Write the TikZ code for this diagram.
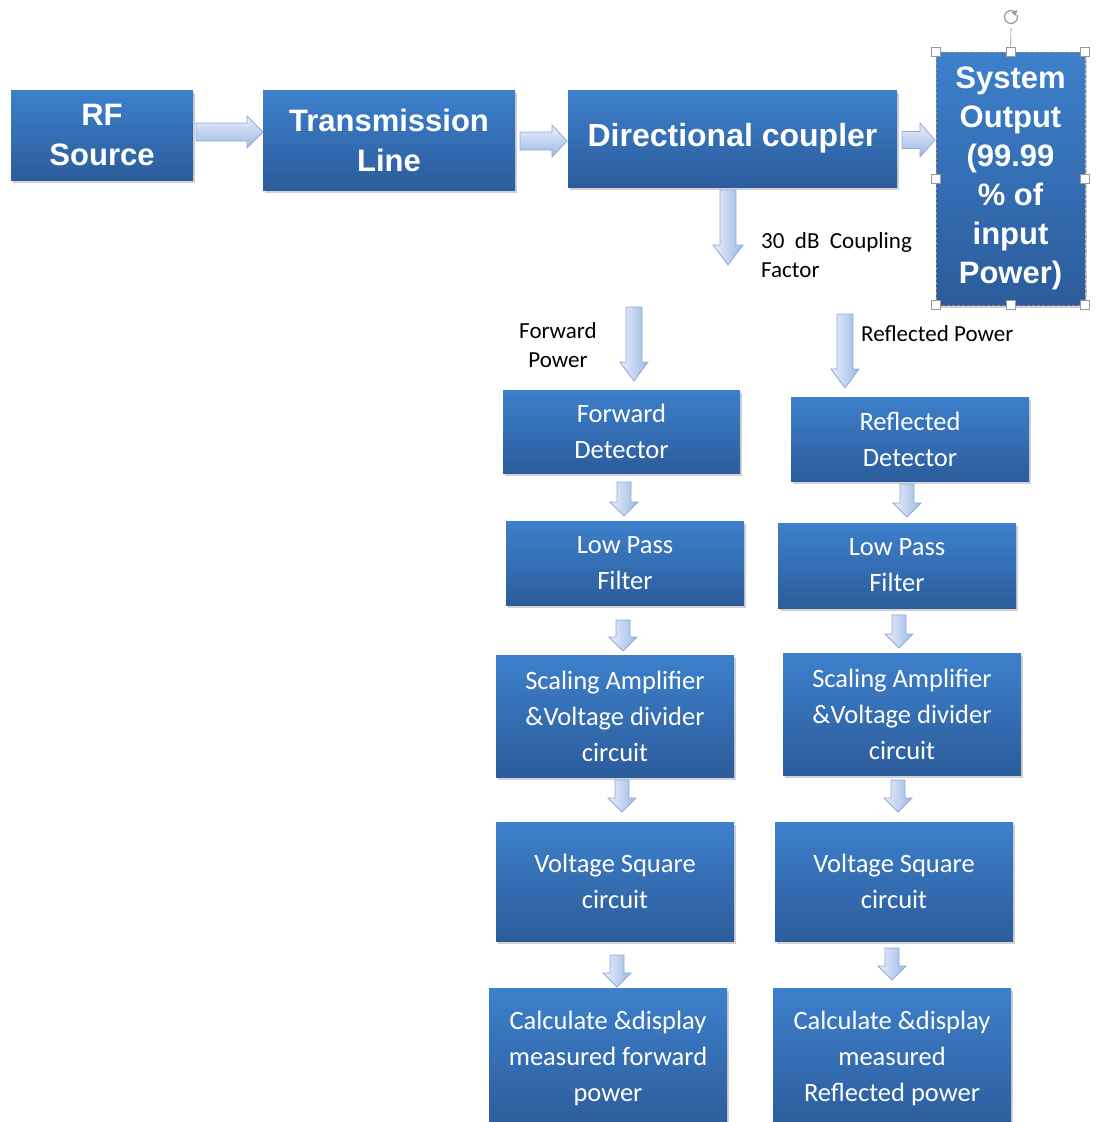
\documentclass[tikz,border=0pt]{standalone}
\usepackage{fontspec}
\setmainfont{Carlito}
\newfontfamily\arialb{Liberation Sans}[BoldFont={* Bold}]
\usetikzlibrary{shadows}
\definecolor{boxtop}{HTML}{3D80CC}
\definecolor{boxbot}{HTML}{2C5C9B}
\definecolor{arrL}{HTML}{E8EFFB}
\definecolor{arrR}{HTML}{9DB8E4}
\definecolor{arrline}{HTML}{8EA9D8}
\newcommand\varr[6]{% x, ytop, ytip, shaft half, head half, head length
  \path[arrowbody] ({#1-#4},{-#2}) -- ({#1+#4},{-#2}) -- ({#1+#4},{-#3+#6}) -- ({#1+#5},{-#3+#6})
    -- (#1,{-#3}) -- ({#1-#5},{-#3+#6}) -- ({#1-#4},{-#3+#6}) -- cycle;}
\newcommand\harr[6]{% y, xleft, xtip, shaft half, head half, head length
  \path[harrowbody] ({#2},{-#1+#4}) -- ({#3-#6},{-#1+#4}) -- ({#3-#6},{-#1+#5}) -- (#3,{-#1})
    -- ({#3-#6},{-#1-#5}) -- ({#3-#6},{-#1-#4}) -- ({#2},{-#1-#4}) -- cycle;}
\begin{document}
\begin{tikzpicture}[x=1pt,y=1pt,
  blk/.style={draw=none, top color=boxtop, bottom color=boxbot, text=white, align=center, inner sep=0pt,
    drop shadow={shadow xshift=1.5pt, shadow yshift=-3pt, opacity=0.25, fill=black!70}},
  big/.style={blk, font=\arialb\bfseries\fontsize{31}{40}\selectfont},
  small/.style={blk, font=\fontsize{26.5}{36}\selectfont},
  arrowbody/.style={left color=arrL, right color=arrR, draw=arrline, line width=0.8pt},
  harrowbody/.style={top color=arrL, bottom color=arrR, draw=arrline, line width=0.8pt},
  lbl/.style={font=\fontsize{23}{29.5}\selectfont, text=black, inner sep=0pt},
  handle/.style={draw=black!40, fill=white, line width=0.6pt, minimum size=9pt, inner sep=0pt}
]
\useasboundingbox (0,0) rectangle (1102,-1122);
\clip (0,0) rectangle (1102,-1122);

% top row
\node[big, minimum width=182pt, minimum height=90pt] (rf) at (102,-135) {RF\\Source};
\node[big, minimum width=252pt, minimum height=100pt] (tl) at (389,-140) {Transmission\\Line};
\node[big, font=\arialb\bfseries\fontsize{32}{40}\selectfont, minimum width=329pt, minimum height=97pt] (dc) at (732.5,-138.5) {Directional coupler};
\node[big, font=\arialb\bfseries\fontsize{31}{39}\selectfont, minimum width=149pt, minimum height=253pt] (so) at (1010.5,-178.5)
  {System\\Output\\(99.99\\\% of\\input\\Power)};

% selection frame of the system output box
\draw[black!45, densely dashed, line width=0.6pt] (so.north west) rectangle (so.south east);
\draw[black!45, line width=0.6pt] (so.north) -- (1011,-28);
\draw[black!40, line width=1.2pt] (1011,-17) ++(60:6.5) arc (60:380:6.5);
\fill[black!40] (1011,-17) ++(60:6.5) ++(-3,-1) -- ++(6,2.5) -- ++(-1.5,-6) -- cycle;
\foreach \a in {north west,north,north east,west,east,south west,south,south east}
  \node[handle] at (so.\a) {};

% detector chains
\node[small, minimum width=237pt, minimum height=83pt] (fd) at (621.5,-431.5) {Forward\\Detector};
\node[small, minimum width=238pt, minimum height=84pt] (rd) at (910,-439) {Reflected\\Detector};
\node[small, minimum width=238pt, minimum height=84pt] (lpl) at (625,-563) {Low Pass\\Filter};
\node[small, minimum width=238pt, minimum height=85pt] (lpr) at (897,-565.5) {Low Pass\\Filter};
\node[small, minimum width=238pt, minimum height=122pt] (sal) at (615,-716) {Scaling Amplifier\\\&Voltage divider\\circuit};
\node[small, minimum width=238pt, minimum height=122pt] (sar) at (902,-714) {Scaling Amplifier\\\&Voltage divider\\circuit};
\node[small, minimum width=238pt, minimum height=119pt] (vsl) at (615,-881.5) {Voltage Square\\circuit};
\node[small, minimum width=238pt, minimum height=119pt] (vsr) at (894,-881.5) {Voltage Square\\circuit};
\node[small, minimum width=238pt, minimum height=140pt] (cdl) at (608,-1058) {Calculate \&display\\measured forward\\power};
\node[small, minimum width=238pt, minimum height=140pt] (cdr) at (892,-1058) {Calculate \&display\\measured\\Reflected power};

% horizontal block arrows
\harr{132}{196}{263}{9}{16}{16}
\harr{141}{520}{567}{9}{16}{15}
\harr{140}{902}{935}{8.5}{17}{15}

% vertical block arrows
\varr{728}{190}{265}{8}{15}{20}
\varr{634}{307}{381}{8}{14}{19}
\varr{845}{314}{388}{8}{14}{19}
\varr{624}{482}{516}{7}{14}{14}
\varr{907}{484}{517}{7}{14}{14}
\varr{623}{620}{651}{7}{14}{14}
\varr{899}{615}{648}{7}{14}{14}
\varr{622}{780}{812}{7}{14}{14}
\varr{898}{780}{812}{7}{14}{14}
\varr{617}{955}{987}{7}{14}{14}
\varr{892}{948}{980}{7}{14}{14}

% labels
\node[lbl, anchor=west, align=left] (cf) at (761,-255) {30\ \ dB\ \ Coupling\\Factor};
\node[lbl, align=center] (fp) at (558,-345) {Forward\\Power};
\node[lbl, anchor=west] (rp) at (861,-334) {Reflected Power};
\end{tikzpicture}
\end{document}
